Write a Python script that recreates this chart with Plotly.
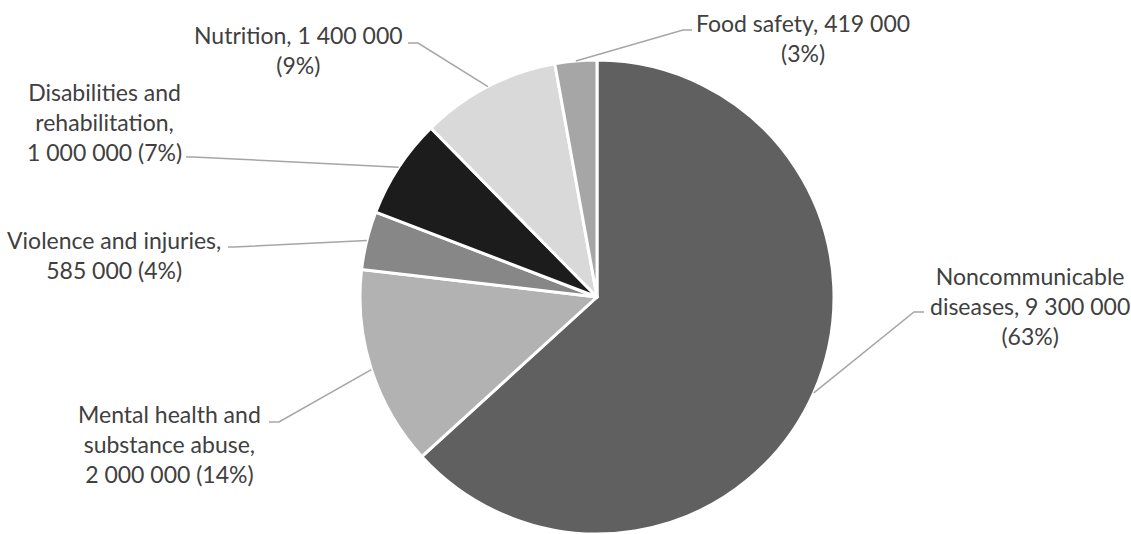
import math
import plotly.graph_objects as go

# ---- data ----
categories = ["Noncommunicable diseases", "Mental health and substance abuse",
              "Violence and injuries", "Disabilities and rehabilitation",
              "Nutrition", "Food safety"]
values = [9300000, 2000000, 585000, 1000000, 1400000, 419000]
percents = [63, 14, 4, 7, 9, 3]
label_templates = [
    "Noncommunicable<br>diseases, {v}<br>({p}%)",
    "Mental health and<br>substance abuse,<br>{v} ({p}%)",
    "Violence and injuries,<br>{v} ({p}%)",
    "Disabilities and<br>rehabilitation,<br>{v} ({p}%)",
    "Nutrition, {v}<br>({p}%)",
    "Food safety, {v}<br>({p}%)",
]
colors = ["#606060", "#b2b2b2", "#878787", "#1c1c1c", "#d9d9d9", "#a6a6a6"]

# ---- layout (pixels) ----
W, H = 1131, 534
CX, CY, R = 597, 297, 237
# label block centres and leader-line elbow/end points (pixels)
label_pos = [(1030, 306), (169, 444), (114, 255), (104, 122), (298, 50), (803, 38)]
elbows = [((914, 312), (924, 312)), ((279, 422), (269, 422)), ((234, 247), (228, 247)),
          ((193, 157), (186, 157)), ((418, 43), (408, 43)), ((683, 30), (692, 30))]

def px(x):
    return x / W

def py(y):
    return 1 - y / H

fig = go.Figure(go.Pie(
    labels=categories, values=values, sort=False, direction="clockwise",
    rotation=0, textinfo="none", hoverinfo="label+value+percent",
    marker=dict(colors=colors, line=dict(color="white", width=3)),
    domain=dict(x=[px(CX - R), px(CX + R)], y=[py(CY + R), py(CY - R)]),
    showlegend=False,
))

total = sum(values)
cum = 0
shapes = []
annotations = []
for i, v in enumerate(values):
    mid = (cum + v / 2) / total * 2 * math.pi
    cum += v
    sx = CX + R * math.sin(mid)
    sy = CY - R * math.cos(mid)
    (ex, ey), (hx, hy) = elbows[i]
    shapes.append(dict(
        type="path", xref="paper", yref="paper",
        path=f"M {px(sx)},{py(sy)} L {px(ex)},{py(ey)} L {px(hx)},{py(hy)}",
        line=dict(color="#a6a6a6", width=1.5),
    ))
    vs = f"{v:,}".replace(",", " ")
    lx, ly = label_pos[i]
    annotations.append(dict(
        x=px(lx), y=py(ly), xref="paper", yref="paper",
        xanchor="center", yanchor="middle", align="center",
        text=label_templates[i].format(v=vs, p=percents[i]),
        showarrow=False, font=dict(family="Lato", size=23, color="#404040"),
    ))

fig.update_layout(
    width=W, height=H, margin=dict(l=0, r=0, t=0, b=0),
    paper_bgcolor="white", plot_bgcolor="white",
    shapes=shapes, annotations=annotations,
)

fig.write_html("out.html")
